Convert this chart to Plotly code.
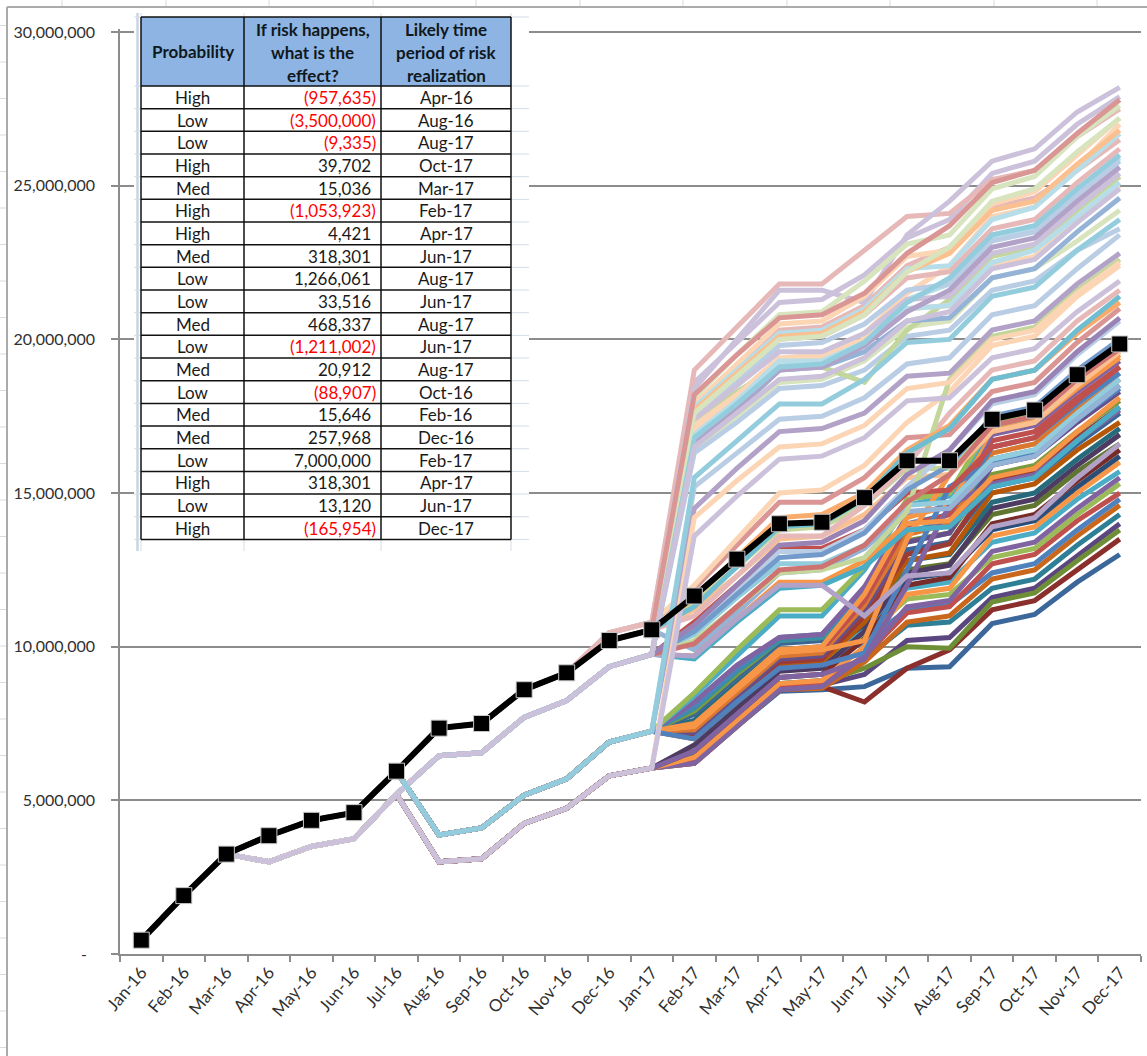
import plotly.graph_objects as go

# ---------------------------------------------------------------- data (values in millions)
months = ['Jan-16', 'Feb-16', 'Mar-16', 'Apr-16', 'May-16', 'Jun-16', 'Jul-16', 'Aug-16',
          'Sep-16', 'Oct-16', 'Nov-16', 'Dec-16', 'Jan-17', 'Feb-17', 'Mar-17', 'Apr-17',
          'May-17', 'Jun-17', 'Jul-17', 'Aug-17', 'Sep-17', 'Oct-17', 'Nov-17', 'Dec-17']

expected_path = [0.45, 1.9, 3.25, 3.85, 4.35, 4.6, 5.95, 7.35, 7.5, 8.6, 9.15, 10.2,
                 10.55, 11.65, 12.85, 14.0, 14.05, 14.85, 16.05, 16.05, 17.4, 17.7, 18.85, 19.85]

# shared opening stretch, Jan-16 .. Jul-16
start_base = [0.45, 1.9, 3.25, 3.85, 4.35, 4.6, 5.95]
start_apr = [0.45, 1.9, 3.25, 3.0, 3.5, 3.75, 5.2]
# shared middle stretch, Aug-16 .. Jan-17
mid_base = [7.35, 7.5, 8.6, 9.15, 10.2, 10.55]
mid_base_hi = [7.35, 7.5, 8.6, 9.15, 10.45, 10.8]
mid_apr = [6.45, 6.55, 7.7, 8.25, 9.35, 9.75]
mid_drop = [3.87, 4.1, 5.17, 5.7, 6.9, 7.25]
mid_drop_apr = [3.0, 3.1, 4.25, 4.74, 5.8, 6.05]

# simulated runs: opening/middle stretch key and Feb-17 .. Dec-17 values
lower_keys = ['D', 'D', 'D', 'D', 'D', 'D', 'C', 'D', 'C', 'D', 'C', 'D', 'C', 'D', 'C',
              'D', 'C', 'C', 'C', 'C', 'C', 'C', 'C', 'C', 'C', 'C', 'C', 'C', 'C', 'C']
lower_tails = [
    [6.2, 7.4, 8.55, 8.6, 8.7, 9.3, 9.35, 10.75, 11.05, 12.1, 13.0],
    [6.3, 7.5, 8.6, 8.7, 8.2, 9.3, 9.9, 11.2, 11.5, 12.5, 13.5],
    [6.4, 7.6, 8.7, 8.75, 9.1, 10.2, 10.3, 11.6, 11.9, 12.95, 14.0],
    [6.3, 7.6, 8.8, 8.85, 9.3, 10.0, 9.95, 11.45, 11.75, 12.8, 13.8],
    [6.5, 7.7, 8.8, 8.9, 9.6, 10.7, 10.8, 11.9, 12.2, 13.3, 14.3],
    [6.2, 7.4, 8.6, 8.65, 9.5, 10.8, 11.0, 12.2, 12.5, 13.6, 14.6],
    [7.1, 8.3, 9.4, 9.5, 10.15, 11.2, 11.35, 12.4, 12.7, 13.8, 14.8],
    [6.3, 7.5, 8.7, 8.8, 9.7, 11.1, 11.3, 12.7, 13.0, 14.1, 15.0],
    [7.2, 8.4, 9.5, 9.6, 10.35, 11.55, 11.7, 12.9, 13.2, 14.3, 15.3],
    [6.2, 7.4, 8.6, 8.7, 9.7, 11.3, 11.5, 13.1, 13.4, 14.5, 15.5],
    [7.3, 8.5, 9.6, 9.7, 10.55, 11.9, 12.1, 13.4, 13.7, 14.8, 15.7],
    [6.4, 7.6, 8.8, 8.9, 10.0, 11.7, 11.9, 13.6, 13.9, 15.0, 16.0],
    [7.4, 8.6, 9.7, 9.8, 10.7, 12.2, 12.4, 13.8, 14.1, 15.2, 16.2],
    [6.6, 7.8, 9.0, 9.1, 10.25, 12.0, 12.25, 14.0, 14.3, 15.4, 16.4],
    [7.5, 8.7, 9.8, 9.9, 10.9, 12.5, 12.7, 14.3, 14.6, 15.7, 16.6],
    [6.8, 8.0, 9.2, 9.3, 10.5, 12.4, 12.65, 14.5, 14.8, 15.9, 16.9],
    [7.6, 8.8, 9.9, 10.0, 11.1, 12.8, 13.0, 14.7, 15.0, 16.1, 17.1],
    [7.0, 8.2, 9.4, 9.5, 10.8, 12.8, 13.05, 15.0, 15.3, 16.4, 17.3],
    [7.8, 9.0, 10.1, 10.2, 11.35, 13.15, 13.4, 15.2, 15.5, 16.6, 17.6],
    [7.1, 8.3, 9.5, 9.6, 11.0, 13.0, 13.35, 15.4, 15.7, 16.8, 17.8],
    [7.9, 9.1, 10.2, 10.3, 11.55, 13.45, 13.7, 15.6, 15.9, 17.0, 18.0],
    [7.2, 8.4, 9.6, 9.7, 11.2, 13.4, 13.7, 15.9, 16.2, 17.3, 18.3],
    [8.0, 9.2, 10.2, 10.3, 11.7, 13.75, 14.05, 16.1, 16.4, 17.5, 18.5],
    [7.3, 8.5, 9.7, 9.8, 11.35, 13.65, 14.0, 16.3, 16.6, 17.7, 18.7],
    [8.1, 9.3, 10.3, 10.4, 11.85, 14.0, 14.3, 16.5, 16.8, 17.9, 18.9],
    [7.4, 8.6, 9.8, 9.9, 11.5, 13.95, 14.3, 16.7, 17.0, 18.1, 19.1],
    [8.2, 9.4, 10.3, 10.4, 11.95, 14.25, 14.6, 16.9, 17.2, 18.3, 19.3],
    [7.5, 8.7, 9.9, 10.0, 11.7, 14.2, 14.6, 17.1, 17.4, 18.5, 19.5],
    [8.4, 9.7, 11.0, 11.0, 12.5, 14.6, 14.9, 17.2, 17.5, 18.6, 19.7],
    [8.5, 9.9, 11.2, 11.2, 12.6, 14.8, 15.0, 17.3, 17.6, 18.7, 19.8],
]
lower_colors = ['#3C679A', '#8B2F2C', '#5B4680', '#6E8F36', '#2E7F95', '#C9671C',
                '#4F81BD', '#C0504D', '#9BBB59', '#8064A2', '#4BACC6', '#F79646',
                '#2C4D75', '#772C2A', '#5F7530', '#4D3B62', '#276A7C', '#B65708',
                '#3A6595', '#9A3B38', '#7B9A3E', '#65508A', '#3A8FA5', '#D9782E',
                '#4F81BD', '#C0504D', '#8064A2', '#F79646', '#4BACC6', '#9BBB59']

crossing_keys = ['C', 'C', 'D']
crossing_tails = [
    [7.4, 8.6, 9.8, 9.9, 10.2, 13.5, 15.6, 17.0, 17.3, 18.4, 19.4],
    [7.0, 8.2, 9.3, 9.4, 9.8, 12.5, 15.2, 16.0, 16.3, 17.4, 18.4],
    [6.6, 7.8, 9.0, 9.1, 9.6, 12.0, 14.6, 15.3, 15.6, 16.7, 17.7],
]
crossing_colors = ['#F79646', '#4F81BD', '#8064A2']

middle_keys = ['H', 'A', 'A', 'B', 'B', 'A', 'B', 'B', 'B', 'B', 'A', 'H', 'B', 'A', 'B', 'B', 'A', 'B']
middle_tails = [
    [11.9, 13.3, 14.7, 14.7, 15.5, 16.8, 16.9, 18.3, 18.6, 19.9, 21.0],
    [11.4, 12.6, 13.8, 13.9, 14.6, 15.8, 15.8, 17.2, 17.5, 18.7, 19.8],
    [11.2, 12.3, 13.5, 13.6, 14.3, 15.5, 15.6, 17.0, 17.3, 18.5, 19.6],
    [10.8, 12.0, 13.2, 13.2, 13.8, 15.0, 15.1, 16.5, 16.8, 18.0, 19.1],
    [10.4, 11.6, 12.7, 12.7, 13.3, 14.6, 14.7, 16.1, 16.4, 17.6, 18.7],
    [9.9, 11.1, 12.4, 12.5, 13.2, 14.4, 14.5, 15.9, 16.2, 17.4, 18.5],
    [9.7, 10.9, 12.1, 12.1, 12.8, 14.0, 14.1, 15.5, 15.8, 17.0, 18.1],
    [9.6, 10.8, 11.9, 12.0, 12.6, 13.8, 13.9, 15.2, 15.5, 16.7, 17.8],
    [9.7, 10.9, 12.0, 12.0, 11.0, 12.3, 12.4, 13.9, 14.2, 15.5, 16.6],
    [10.6, 11.9, 13.1, 13.1, 13.8, 15.2, 16.4, 17.9, 18.2, 19.5, 20.6],
    [11.0, 12.3, 13.6, 13.6, 14.6, 15.9, 17.6, 19.0, 19.3, 20.6, 21.6],
    [12.0, 13.5, 15.0, 15.1, 15.9, 17.3, 18.3, 19.8, 20.1, 21.4, 22.4],
    [10.2, 11.3, 12.4, 12.5, 12.9, 14.4, 18.7, 20.1, 20.4, 21.6, 22.6],
    [11.6, 12.9, 14.2, 14.3, 15.0, 16.4, 17.2, 18.7, 19.0, 20.2, 21.2],
    [10.5, 11.7, 12.9, 13.0, 13.7, 15.1, 15.9, 17.5, 17.8, 19.0, 20.0],
    [10.1, 11.3, 12.5, 12.6, 13.3, 14.7, 15.6, 17.2, 17.5, 18.7, 19.7],
    [11.3, 12.6, 13.9, 14.0, 14.8, 16.3, 17.1, 18.7, 19.0, 20.3, 21.4],
    [10.7, 12.0, 13.3, 13.4, 14.1, 15.6, 16.4, 18.0, 18.3, 19.6, 20.7],
]
middle_colors = ['#D99694', '#C3D69B', '#FAC090', '#C0504D', '#93CDDD', '#95B3D7',
                 '#F79646', '#4BACC6', '#B3A2C7', '#B9CDE5', '#E6B9B8', '#FCD5B5',
                 '#C3D69B', '#F9AB6B', '#729ACA', '#CD7371', '#6FBDD1', '#9983B5']

upper_keys = ['B', 'A', 'A', 'B', 'B', 'H',
              'H', 'A', 'A', 'B', 'B', 'A', 'B', 'B', 'A', 'B', 'B', 'B', 'B', 'B', 'A', 'A', 'A', 'B']
upper_tails = [
    [16.4, 17.5, 18.6, 18.7, 19.3, 20.4, 20.6, 22.0, 22.3, 23.2, 24.2],
    [17.0, 18.1, 19.2, 19.3, 20.0, 21.3, 21.8, 23.3, 23.6, 24.8, 25.9],
    [17.8, 19.0, 20.3, 20.4, 21.1, 22.4, 23.0, 24.3, 24.6, 25.5, 26.5],
    [17.1, 18.2, 19.4, 19.5, 20.2, 21.5, 22.4, 24.0, 24.3, 25.6, 27.0],
    [16.3, 17.3, 18.4, 18.5, 19.0, 20.1, 20.3, 21.6, 21.9, 22.9, 23.6],
    [18.6, 19.9, 21.2, 21.3, 22.1, 23.3, 23.9, 25.4, 25.8, 27.0, 27.9],
    [19.0, 20.4, 21.8, 21.8, 22.9, 24.0, 24.1, 25.2, 25.5, 26.6, 27.5],
    [18.4, 20.0, 21.6, 21.6, 21.2, 23.4, 24.5, 25.8, 26.2, 27.4, 28.2],
    [18.1, 19.5, 20.8, 20.9, 21.9, 23.1, 23.4, 24.9, 25.3, 26.6, 27.6],
    [17.9, 19.2, 20.5, 20.6, 21.4, 22.7, 22.9, 24.4, 24.8, 26.0, 27.2],
    [17.8, 19.0, 20.2, 20.3, 21.0, 22.3, 22.4, 23.9, 24.3, 25.5, 26.7],
    [17.6, 18.8, 20.0, 20.1, 20.8, 22.0, 22.2, 23.6, 23.9, 25.1, 26.2],
    [17.5, 18.6, 19.8, 19.9, 20.5, 21.6, 21.8, 23.2, 23.5, 24.7, 25.8],
    [17.3, 18.3, 19.1, 19.1, 18.6, 20.3, 21.3, 22.7, 23.0, 24.2, 25.3],
    [17.4, 18.5, 19.6, 19.6, 20.2, 21.3, 21.4, 22.8, 23.1, 24.3, 25.4],
    [17.2, 18.2, 19.3, 19.4, 20.0, 21.0, 21.1, 22.4, 22.7, 23.9, 25.0],
    [16.9, 18.0, 19.3, 19.3, 19.9, 21.0, 21.1, 22.5, 22.9, 24.0, 25.1],
    [16.6, 17.7, 19.0, 19.1, 19.6, 20.6, 20.7, 22.0, 22.3, 23.5, 24.6],
    [16.7, 17.8, 19.0, 19.1, 19.8, 20.9, 21.6, 23.0, 23.3, 24.5, 25.6],
    [16.8, 17.9, 19.1, 19.2, 19.9, 21.2, 22.0, 23.4, 23.7, 24.9, 26.0],
    [17.7, 18.9, 20.1, 20.2, 20.9, 22.2, 22.8, 24.2, 24.5, 25.7, 26.8],
    [17.6, 18.8, 20.0, 20.1, 20.8, 22.2, 23.0, 24.5, 24.9, 26.1, 27.2],
    [18.2, 19.5, 20.7, 20.8, 21.5, 22.8, 23.7, 25.1, 25.5, 26.7, 27.8],
    [16.5, 17.6, 18.7, 18.8, 19.4, 20.6, 20.9, 22.3, 22.6, 23.8, 24.9],
]
upper_colors = ['#D7E4BD', '#B7DEE8', '#E6B9B8', '#FCD5B5', '#B9CDE5', '#CCC1DA',
                '#E6B9B8', '#CCC1DA', '#D7E4BD', '#FCD5B5', '#B7DEE8', '#E6B9B8',
                '#B9CDE5', '#C3D69B', '#CCC1DA', '#FCD5B5', '#B7DEE8', '#95B3D7',
                '#B3A2C7', '#93CDDD', '#FAC090', '#D7E4BD', '#D99694', '#CCC1DA']

jump_keys = ['C', 'C', 'C', 'D', 'D']
jump_tails = [
    [15.2, 16.3, 17.4, 17.5, 18.1, 19.2, 19.4, 20.8, 21.1, 22.3, 23.4],
    [14.5, 15.8, 17.0, 17.1, 17.6, 18.8, 18.9, 20.3, 20.6, 21.8, 22.8],
    [15.5, 16.7, 17.9, 17.9, 18.7, 19.9, 20.0, 21.4, 21.7, 22.9, 23.9],
    [14.2, 15.4, 16.5, 16.6, 17.2, 18.4, 18.6, 20.0, 20.3, 21.5, 22.5],
    [13.6, 14.9, 16.1, 16.2, 16.8, 18.0, 18.1, 19.4, 19.7, 20.9, 21.9],
]
jump_colors = ['#B9CDE5', '#B3A2C7', '#93CDDD', '#FCD5B5', '#CCC1DA']

y_tick_values = [0, 5, 10, 15, 20, 25, 30]
y_tick_text = ['-\u00a0\u00a0', '5,000,000', '10,000,000', '15,000,000',
               '20,000,000', '25,000,000', '30,000,000']

# risk register shown in the top-left table
risk_probability = ['High', 'Low', 'Low', 'High', 'Med', 'High', 'High', 'Med', 'Low', 'Low',
                    'Med', 'Low', 'Med', 'Low', 'Med', 'Med', 'Low', 'High', 'Low', 'High']
risk_effect = [-957635, -3500000, -9335, 39702, 15036, -1053923, 4421, 318301, 1266061, 33516,
               468337, -1211002, 20912, -88907, 15646, 257968, 7000000, 318301, 13120, -165954]
risk_period = ['Apr-16', 'Aug-16', 'Aug-17', 'Oct-17', 'Mar-17', 'Feb-17', 'Apr-17', 'Jun-17',
               'Aug-17', 'Jun-17', 'Aug-17', 'Jun-17', 'Aug-17', 'Oct-16', 'Feb-16', 'Dec-16',
               'Feb-17', 'Apr-17', 'Jun-17', 'Dec-17']

# ---------------------------------------------------------------- figure
heads = {
    'A': start_base + mid_base,
    'H': start_base + mid_base_hi,
    'B': start_apr + mid_apr,
    'C': start_base + mid_drop,
    'D': start_apr + mid_drop_apr,
}

fig = go.Figure()

groups = [
    (lower_keys, lower_tails, lower_colors),
    (crossing_keys, crossing_tails, crossing_colors),
    (middle_keys, middle_tails, middle_colors),
    (upper_keys, upper_tails, upper_colors),
    (jump_keys, jump_tails, jump_colors),
]
for keys, tails, colors in groups:
    for key, tail, color in zip(keys, tails, colors):
        fig.add_trace(go.Scatter(
            x=months, y=heads[key] + tail, mode='lines',
            line=dict(color=color, width=5), hoverinfo='skip', showlegend=False))

fig.add_trace(go.Scatter(
    x=months, y=expected_path, mode='lines+markers',
    line=dict(color='black', width=6),
    marker=dict(symbol='square', size=16, color='black',
                line=dict(color='#C8C8C8', width=1)),
    showlegend=False))

W, H = 1147, 1056
M_L, M_R, M_T, M_B = 120, 6, 29, 102
PW = W - M_L - M_R
PH = H - M_T - M_B


def px_x(px):
    return (px - M_L) / PW


def px_y(py):
    return (H - M_B - py) / PH


shapes = []


def seg(x0, y0, x1, y1, color, width):
    shapes.append(dict(type='line', xref='paper', yref='paper',
                       x0=px_x(x0), y0=px_y(y0), x1=px_x(x1), y1=px_y(y1),
                       line=dict(color=color, width=width), layer='above'))


def box(x0, y0, x1, y1, fill):
    shapes.append(dict(type='rect', xref='paper', yref='paper',
                       x0=px_x(x0), y0=px_y(y0), x1=px_x(x1), y1=px_y(y1),
                       fillcolor=fill, line=dict(width=0), layer='above'))


SHEET = '#D5DCE6'
# worksheet cells around the chart object
for cx in [62, 166, 269, 373, 476, 580, 683, 787, 890, 994, 1097]:
    seg(cx, 0, cx, 6, SHEET, 1)
for k in range(30):
    ry = 25.5 + 36.5 * k
    seg(0, ry, 6, ry, SHEET, 1)
# chart area border
seg(7, 7, W, 7, '#ABABAB', 2)
seg(7, 7, 7, H, '#ABABAB', 2)

# table picture
TX = [141, 244, 381, 511]
T_TOP, T_HEAD = 17, 86
ROW_H = 22.67
row_lines = [T_HEAD + ROW_H * k for k in range(21)]
T_BOT = row_lines[-1]

box(134, 13, 529, 551, 'white')
seg(137.5, 13, 137.5, 551, '#C9D4E3', 2.5)
for ry in [T_TOP] + row_lines:
    seg(134, ry, 141, ry, SHEET, 1)
    seg(511, ry, 529, ry, SHEET, 1)
for cx in TX:
    seg(cx, 13, cx, T_TOP, SHEET, 1)
    seg(cx, T_BOT, cx, 551, SHEET, 1)
box(TX[0], T_TOP, TX[3], T_HEAD, '#8DB4E2')
for ry in [T_TOP] + row_lines:
    seg(TX[0], ry, TX[3], ry, '#111111', 1.5)
for cx in TX:
    seg(cx, T_TOP, cx, T_BOT, '#111111', 1.5)

annotations = []
FONT = 'Lato, Open Sans, sans-serif'


def text(x, y, s, anchor='center', color='#1A1A1A', size=17):
    annotations.append(dict(xref='paper', yref='paper', x=px_x(x), y=px_y(y), text=s,
                            showarrow=False, xanchor=anchor, yanchor='middle',
                            font=dict(family=FONT, size=size, color=color)))


c1 = (TX[0] + TX[1]) / 2
c2 = (TX[1] + TX[2]) / 2
c3 = (TX[2] + TX[3]) / 2
text(c1, 52, '<b>Probability</b>', color='#101820')
for yy, s in zip([30, 52.5, 75], ['If risk happens,', 'what is the', 'effect?']):
    text(c2, yy, '<b>' + s + '</b>', color='#101820')
for yy, s in zip([30, 52.5, 75], ['Likely time', 'period of risk', 'realization']):
    text(c3, yy, '<b>' + s + '</b>', color='#101820')

for k, (p, v, per) in enumerate(zip(risk_probability, risk_effect, risk_period)):
    yy = T_HEAD + ROW_H * (k + 0.5)
    text(c1, yy, p)
    if v < 0:
        text(TX[2] - 3, yy, '({:,})'.format(-v), anchor='right', color='#FF0000')
    else:
        text(TX[2] - 8, yy, '{:,}'.format(v), anchor='right')
    text(c3, yy, per)

fig.update_layout(
    width=W, height=H,
    margin=dict(l=M_L, r=M_R, t=M_T, b=M_B, pad=0),
    paper_bgcolor='white', plot_bgcolor='white',
    showlegend=False,
    shapes=shapes, annotations=annotations,
    xaxis=dict(
        type='category', categoryorder='array', categoryarray=months,
        range=[-0.5, 23.5], showgrid=False, zeroline=False,
        showline=True, linecolor='#8C8C8C', linewidth=1.5,
        ticks='outside', ticklen=6, tickcolor='#8C8C8C', tickwidth=1.5,
        tickson='boundaries', tickangle=-50, automargin=False,
        tickfont=dict(family=FONT, size=17, color='#303030'),
    ),
    yaxis=dict(
        range=[0, 30.1], tickvals=y_tick_values, ticktext=y_tick_text,
        showgrid=True, gridcolor='#8C8C8C', gridwidth=1.5, zeroline=False,
        showline=True, linecolor='#8C8C8C', linewidth=1.5,
        ticks='outside', ticklen=7, tickcolor='#8C8C8C', tickwidth=1.5,
        ticklabelstandoff=13, automargin=False,
        tickfont=dict(family=FONT, size=16, color='#303030'),
    ),
)

fig.write_html('out.html')
